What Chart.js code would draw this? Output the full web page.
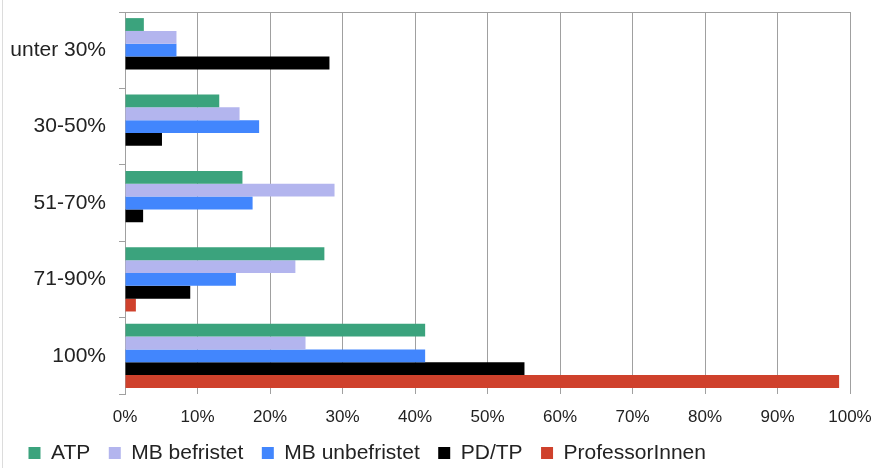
<!DOCTYPE html>
<html>
<head>
<meta charset="utf-8">
<script src="https://cdn.jsdelivr.net/npm/chart.js@4"></script>
<style>
  body { margin: 0; background: #fff; }
  #wrap { position: relative; width: 878px; height: 468px; }
  #edge { position: absolute; left: 2px; top: 0; width: 1px; height: 468px; background: #dcdcdc; }
</style>
</head>
<body>
<div id="wrap">
  <div id="edge"></div>
  <canvas id="chart" width="878" height="468"></canvas>
</div>
<script>
// Anteil je Stellenumfang (in %)
const categories = ["unter 30%", "30-50%", "51-70%", "71-90%", "100%"];
const atp = [2.6, 13.0, 16.2, 27.5, 41.4];
const mbBefristet = [7.1, 15.8, 28.9, 23.5, 24.9];
const mbUnbefristet = [7.1, 18.5, 17.6, 15.3, 41.4];
const pdTp = [28.2, 5.1, 2.5, 9.0, 55.1];
const professorInnen = [0, 0, 0, 1.5, 98.5];
const xTicks = [0, 10, 20, 30, 40, 50, 60, 70, 80, 90, 100];

const font = "'Liberation Sans', Arial, sans-serif";

function ds(label, data, color) {
  return {
    label: label,
    data: data,
    backgroundColor: color,
    borderWidth: 0,
    categoryPercentage: 0.84,
    barPercentage: 1
  };
}

new Chart(document.getElementById("chart"), {
  type: "bar",
  data: {
    labels: categories,
    datasets: [
      ds("ATP", atp, "#3ba37d"),
      ds("MB befristet", mbBefristet, "#b3b5ee"),
      ds("MB unbefristet", mbUnbefristet, "#4286fd"),
      ds("PD/TP", pdTp, "#000000"),
      ds("ProfessorInnen", professorInnen, "#cf412c")
    ]
  },
  options: {
    indexAxis: "y",
    responsive: false,
    animation: false,
    layout: { padding: { top: 12, left: 10, right: 28, bottom: -1 } },
    scales: {
      x: {
        min: 0,
        max: 100,
        afterBuildTicks: (axis) => { axis.ticks = xTicks.map(v => ({ value: v })); },
        afterFit: (axis) => { axis.height = 30; axis.paddingLeft = 0; axis.paddingRight = 0; },
        grid: { color: "#a0a0a0", drawTicks: false },
        border: { display: false },
        ticks: {
          padding: 13,
          color: "#222",
          font: { family: font, size: 17 },
          callback: (v) => v + "%"
        }
      },
      y: {
        afterFit: (axis) => { axis.width = 115; axis.paddingTop = 0; axis.paddingBottom = 0; },
        grid: {
          offset: true,
          color: (ctx) => ctx.index === 0 ? "#a0a0a0" : "rgba(0,0,0,0)",
          tickColor: "#a0a0a0",
          tickLength: 6
        },
        border: { color: "#a0a0a0" },
        ticks: {
          padding: 13,
          color: "#222",
          font: { family: font, size: 21 }
        }
      }
    },
    plugins: {
      tooltip: { enabled: false },
      legend: {
        position: "bottom",
        align: "start",
        maxHeight: 45,
        labels: {
          boxWidth: 12,
          boxHeight: 12,
          padding: 18.5,
          color: "#222",
          font: { family: font, size: 21 }
        }
      }
    }
  }
});
</script>
</body>
</html>
